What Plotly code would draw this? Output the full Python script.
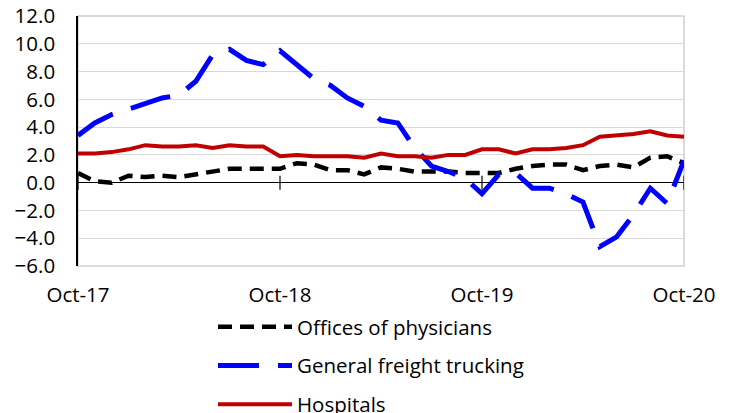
import pandas as pd
import plotly.graph_objects as go

# Monthly observations, Oct-17 through Oct-20
months = pd.date_range("2017-10-01", periods=37, freq="MS").strftime("%b-%y").tolist()
tick_months = ["Oct-17", "Oct-18", "Oct-19", "Oct-20"]

physicians = [0.7, 0.1, 0.0, 0.5, 0.4, 0.5, 0.4, 0.6, 0.8, 1.0, 1.0, 1.0, 1.0,
              1.4, 1.3, 0.9, 0.9, 0.6, 1.1, 1.0, 0.8, 0.8, 0.8, 0.7, 0.7,
              0.7, 1.0, 1.2, 1.3, 1.3, 0.9, 1.2, 1.3, 1.1, 1.8, 1.9, 1.4]
trucking = [3.4, 4.3, 4.9, 5.3, 5.7, 6.1, 6.3, 7.3, 9.2, 9.6, 8.8, 8.5, 9.5,
            8.5, 7.5, 7.0, 6.1, 5.5, 4.5, 4.3, 2.5, 1.2, 0.8, 0.3, -0.8,
            0.6, 0.7, -0.4, -0.4, -0.8, -1.4, -4.6, -3.9, -2.3, -0.4, -1.5, 1.6]
hospitals = [2.1, 2.1, 2.2, 2.4, 2.7, 2.6, 2.6, 2.7, 2.5, 2.7, 2.6, 2.6, 1.9,
             2.0, 1.9, 1.9, 1.9, 1.8, 2.1, 1.9, 1.9, 1.8, 2.0, 2.0, 2.4,
             2.4, 2.1, 2.4, 2.4, 2.5, 2.7, 3.3, 3.4, 3.5, 3.7, 3.4, 3.3]

FONT = "Open Sans"
GRID = "#D9D9D9"

fig = go.Figure()
fig.add_trace(go.Scatter(
    x=months, y=physicians, name="Offices of physicians", mode="lines",
    legendgroup="a", line=dict(color="#000000", width=4.5, dash="14px,8px")))
fig.add_trace(go.Scatter(
    x=months, y=trucking, name="General freight trucking", mode="lines",
    legendgroup="b", line=dict(color="#0000FF", width=5, dash="41px,19px")))
fig.add_trace(go.Scatter(
    x=months, y=hospitals, name="Hospitals", mode="lines",
    legendgroup="c", line=dict(color="#C00000", width=4)))

# plot-area frame, then yearly tick marks crossing the zero line
shapes = [dict(type="rect", xref="paper", yref="paper", x0=0, x1=1, y0=0, y1=1,
               line=dict(color="#D0D0D0", width=1.5), layer="below")]
for m in tick_months:
    shapes.append(dict(type="line", xref="x", yref="y", x0=m, x1=m,
                       ysizemode="pixel", yanchor=0, y0=-7, y1=7,
                       line=dict(color="#000000", width=1.2), layer="above"))

fig.update_layout(
    width=731, height=413,
    margin=dict(l=78, r=47, t=16, b=147, autoexpand=False),
    paper_bgcolor="white", plot_bgcolor="white",
    font=dict(family=FONT, size=20.5, color="#000000"),
    showlegend=True,
    legend=dict(xref="container", yref="container", x=213 / 731, y=1 - 307 / 413,
                xanchor="left", yanchor="top", itemwidth=74, tracegroupgap=9,
                font=dict(family=FONT, size=20.5, color="#000000"),
                bgcolor="rgba(0,0,0,0)"),
    xaxis=dict(type="category", range=[0, 36], tickvals=tick_months,
               ticktext=tick_months, ticks="", showgrid=False, zeroline=False,
               showline=False, ticklabelstandoff=14),
    yaxis=dict(range=[-6, 12], dtick=2, tick0=0, tickformat=".1f",
               showgrid=True, gridcolor=GRID, gridwidth=1,
               zeroline=True, zerolinecolor="#000000", zerolinewidth=1,
               showline=True, linecolor="#000000", linewidth=1.5,
               ticks="", ticklabelstandoff=17),
    shapes=shapes,
)

fig.write_html("out.html")
